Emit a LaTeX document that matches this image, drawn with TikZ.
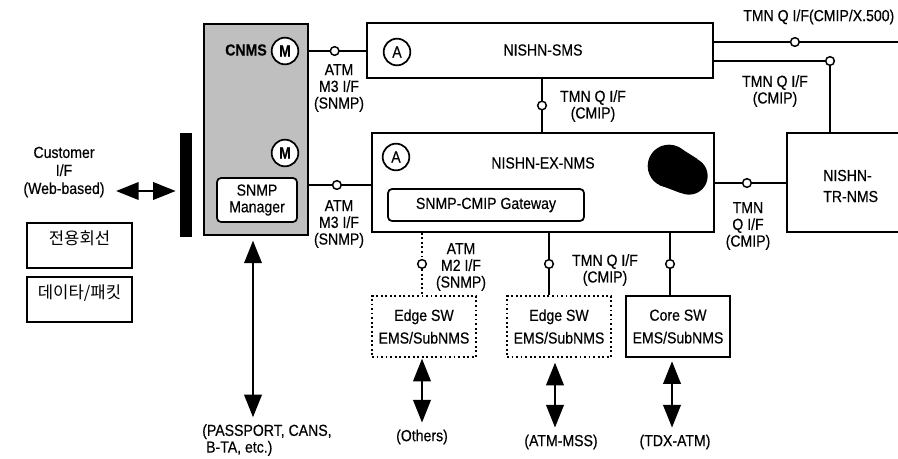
\documentclass[tikz,border=0pt]{standalone}
\usepackage{fontspec}
\setmainfont{Liberation Sans}[FakeStretch=0.88, FakeBold=0.4]
\newfontfamily\kr{Noto Sans CJK KR}
\usetikzlibrary{arrows.meta,fit}

\tikzset{
  box/.style={draw, line width=1.3pt, inner sep=0pt},
  dotbox/.style={draw, dotted, line width=1.4pt, inner sep=0pt},
  rbox/.style={box, fill=white, rounded corners=3pt},
  mcirc/.style={circle, draw, line width=1.3pt, fill=white, minimum size=20pt, inner sep=0pt},
  port/.style={circle, draw, solid, line width=1.1pt, fill=white, minimum size=6.5pt, inner sep=0pt},
  link/.style={line width=1.3pt},
  dlink/.style={line width=1.4pt, dotted},
  dblarrow/.style={{Triangle[length=17pt,width=13pt]}-{Triangle[length=17pt,width=13pt]}, line width=2pt},
  txt/.style={align=center, inner sep=0pt},
}

\begin{document}
\begin{tikzpicture}[x=0.75pt, y=-0.75pt, font=\fontsize{12}{12.5}\selectfont]
  \useasboundingbox (0,0) rectangle (898,458);
  \clip (0,0) rectangle (898,458);

  % CNMS
  \node[box, fill=black!25, fit={(204,24) (308,235)}] (cnms) {};
  \node[txt] (cnmslab) at (246,50) {\bfseries CNMS};
  \node[mcirc] (m1) at (285,51) {\bfseries M};
  \node[mcirc] (m2) at (285,153) {\bfseries M};
  \node[rbox, fit={(217,178) (297,222)}] (mgr) {};
  \node[txt] (mgrlab) at (mgr) {SNMP\\Manager};
  \node[fill=black, inner sep=0pt, fit={(180,133) (192,237)}] (bar) {};

  % customer side
  \node[txt, font=\fontsize{12}{13.5}\selectfont] (cust) at (64,172) {Customer\\I/F\\(Web-based)};
  \coordinate (custr) at (116,191);
  \draw[dblarrow, shorten >=3pt] (custr) -- (bar.west |- custr);
  \node[box, fit={(27,223) (132,268)}] (leased) {\kr\fontsize{12.5}{13}\selectfont 전용회선};
  \node[box, fit={(27,277) (132,322)}] (packet) {\kr\fontsize{12.5}{13}\selectfont 데이타/패킷};

  % NISHN-SMS
  \node[box, fit={(367,23) (713,78)}] (sms) {};
  \node[txt] (smslab) at (543,50) {NISHN-SMS};
  \node[mcirc] (asms) at (397,52) {A};

  % NISHN-EX-NMS
  \node[box, fit={(372,133) (714,232)}] (exnms) {};
  \node[txt] (exlab) at (543,163) {NISHN-EX-NMS};
  \node[mcirc] (aex) at (396,157) {A};
  \node[rbox, fit={(388,189) (584,221)}] (gw) {};
  \node[txt] (gwlab) at (gw) {SNMP-CMIP Gateway};
  \fill (669,166) circle[radius=16pt] (689,176) circle[radius=14pt];
  \fill (659.5,185) -- (678.5,147) -- (697.5,159) -- (680.5,193) -- cycle;

  % NISHN-TR-NMS
  \node[box, fit={(787,133) (912,232)}] (trnms) {};
  \node[txt, align=left, anchor=west, font=\fontsize{12}{15.75}\selectfont] (trlab) at (823,186) {NISHN-\\TR-NMS};

  % switch EMS
  \node[dotbox, fit={(372,296) (476,357)}] (edge1) {};
  \node[dotbox, fit={(507,296) (611,357)}] (edge2) {};
  \node[box, fit={(626,296) (730,357)}] (core) {};
  \node[txt, font=\fontsize{12}{17}\selectfont] (edge1lab) at (edge1) {Edge SW\\EMS/SubNMS};
  \node[txt, font=\fontsize{12}{17}\selectfont] (edge2lab) at (edge2) {Edge SW\\EMS/SubNMS};
  \node[txt, font=\fontsize{12}{17}\selectfont] (corelab) at (core) {Core SW\\EMS/SubNMS};

  % interfaces
  \draw[link] (cnms.east |- m1) -- node[port, pos=.45]{} (sms.west |- m1);
  \draw[link] (cnms.east |- 0,185) -- node[port, pos=.45]{} (exnms.west |- 0,185);
  \draw[link] (sms.south -| 542,0) -- node[port]{} (exnms.north -| 542,0);
  \coordinate (x500) at (898,42);
  \draw[link] (sms.east |- x500) -- node[port, pos=.44]{} (x500);
  \draw[link] (sms.east |- 0,61) -| node[port]{} (trnms.north -| 830,0);
  \draw[link] (exnms.east |- 0,183) -- node[port, pos=.45]{} (trnms.west |- 0,183);
  \draw[dlink] (exnms.south -| 422,0) -- node[port]{} (edge1.north -| 422,0);
  \draw[link] (exnms.south -| 549,0) -- node[port]{} (edge2.north -| 549,0);
  \draw[link] (exnms.south -| 670,0) -- node[port]{} (core.north -| 670,0);

  % interface labels
  \node[txt] (m3a) at (339,88) {ATM\\M3 I/F\\(SNMP)};
  \node[txt] (m3b) at (339,224) {ATM\\M3 I/F\\(SNMP)};
  \node[txt] (m2) at (461,267) {ATM\\M2 I/F\\(SNMP)};
  \node[txt] (q1) at (593,106) {TMN Q I/F\\(CMIP)};
  \node[txt] (q2) at (775,91) {TMN Q I/F\\(CMIP)};
  \node[txt] (q3) at (748,226) {TMN\\Q I/F\\(CMIP)};
  \node[txt] (q4) at (605,270) {TMN Q I/F\\(CMIP)};
  \node[txt, anchor=west] (qx) at (743,17) {TMN Q I/F(CMIP/X.500)};

  % attached networks
  \node[txt, align=left, anchor=north west] (pass) at (202,424) {(PASSPORT, CANS,\\\ B-TA, etc.)};
  \node[txt] (others) at (422,437) {(Others)};
  \node[txt] (mss) at (561,442) {(ATM-MSS)};
  \node[txt] (tdx) at (675,442) {(TDX-ATM)};
  \draw[dblarrow, shorten <=3.5pt, shorten >=5pt] (cnms.south -| 253,0) -- (pass.north -| 253,0);
  \draw[dblarrow, shorten <=0.5pt, shorten >=5pt] (edge1.south -| 422,0) -- (others.north);
  \draw[dblarrow, shorten <=3.5pt, shorten >=5pt] (edge2.south -| 555,0) -- (mss.north -| 555,0);
  \draw[dblarrow, shorten <=2.5pt, shorten >=5pt] (core.south -| 672,0) -- (tdx.north -| 672,0);
\end{tikzpicture}
\end{document}
